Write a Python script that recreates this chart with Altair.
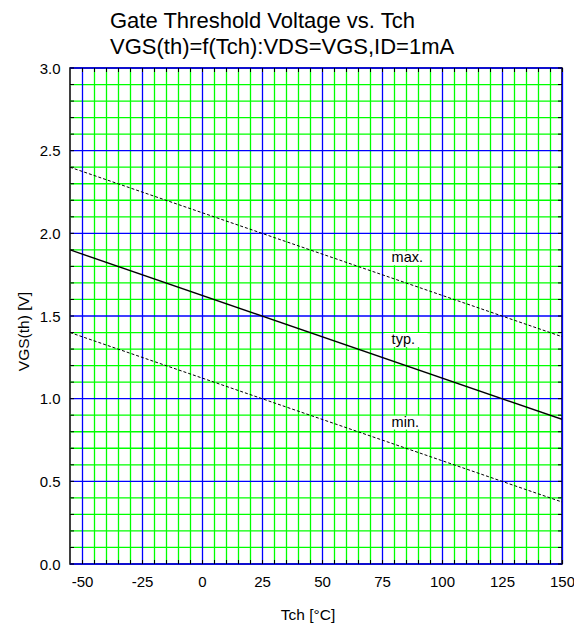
import altair as alt
import pandas as pd

# Data
tch = [-55, 150]
vgs_max = [2.4, 1.375]
vgs_typ = [1.9, 0.875]
vgs_min = [1.4, 0.375]

label_text = ["max.", "typ.", "min."]
label_x = [79.0, 79.0, 79.0]
label_y = [1.849, 1.355, 0.855]
box_x1 = [76.0, 76.0, 76.0]
box_x2 = [94.0, 94.0, 94.0]
box_half = 0.042

x_major = [-50, -25, 0, 25, 50, 75, 100, 125, 150]
x_minor = [v for v in range(-50, 151, 5) if v % 25 != 0]
y_major = [0.0, 0.5, 1.0, 1.5, 2.0, 2.5, 3.0]
y_minor = [round(i / 10, 1) for i in range(0, 31) if i % 5 != 0]
x_ticks = list(range(-50, 151, 5))
y_ticks = [round(i / 10, 1) for i in range(0, 31)]

FONT = "Liberation Sans"
W, H = 492, 496

rows = []
for name, vals in [("max", vgs_max), ("typ", vgs_typ), ("min", vgs_min)]:
    for t, v in zip(tch, vals):
        rows.append({"series": name, "Tch": t, "VGS": v})
df = pd.DataFrame(rows)

lab = pd.DataFrame({
    "text": label_text, "x": label_x, "y": label_y,
    "x1": box_x1, "x2": box_x2,
    "y1": [v - box_half for v in label_y], "y2": [v + box_half for v in label_y],
})

xminor_df = pd.DataFrame({"x": x_minor})
xmajor_df = pd.DataFrame({"x": x_major})
yminor_df = pd.DataFrame({"y": y_minor})
ymajor_df = pd.DataFrame({"y": y_major})
xticks_df = pd.DataFrame({"x": x_ticks})
yticks_df = pd.DataFrame({"y": y_ticks})

xscale = alt.Scale(domain=[-55, 150], nice=False, zero=False)
yscale = alt.Scale(domain=[0, 3.0], nice=False, zero=False)

xaxis = alt.Axis(
    values=x_major, grid=False, ticks=False, domain=False,
    labelExpr="'' + datum.value",
    labelFont=FONT, labelFontSize=15, labelColor="black", labelPadding=10,
    labelFlush=False, labelOverlap=False,
    title="Tch [°C]", titleFont=FONT, titleFontSize=15.5, titleFontWeight="normal",
    titleColor="black", titleX=237.5, titleY=50,
    titleAlign="center", titleBaseline="middle",
)
yaxis = alt.Axis(
    values=y_major, grid=False, ticks=False, domain=False,
    format=".1f",
    labelFont=FONT, labelFontSize=15, labelColor="black", labelPadding=10,
    labelFlush=False, labelOverlap=False,
    title="VGS(th) [V]", titleFont=FONT, titleFontSize=15.5, titleFontWeight="normal",
    titleColor="black", titleX=-47, titleY=263, titleAngle=270,
    titleAlign="center", titleBaseline="middle",
)

def X(field):
    return alt.X(field, type="quantitative", scale=xscale, axis=xaxis)

def Y(field):
    return alt.Y(field, type="quantitative", scale=yscale, axis=yaxis)

GREEN = "#00ff00"
BLUE = "#0000ff"
GW = 1.3

g_xminor = alt.Chart(xminor_df).mark_rule(color=GREEN, strokeWidth=GW, xOffset=0.5).encode(x=X("x"))
g_yminor = alt.Chart(yminor_df).mark_rule(color=GREEN, strokeWidth=GW).encode(y=Y("y"))
g_xmajor = alt.Chart(xmajor_df).mark_rule(color=BLUE, strokeWidth=GW, xOffset=0.5).encode(x=X("x"))
g_ymajor = alt.Chart(ymajor_df).mark_rule(color=BLUE, strokeWidth=GW).encode(y=Y("y"))

# short inward ticks on the frame
t_top = alt.Chart(xticks_df).mark_rule(color="black", strokeWidth=1, xOffset=0.5).encode(
    x=X("x"), y=alt.value(0), y2=alt.value(4))
t_bot = alt.Chart(xticks_df).mark_rule(color="black", strokeWidth=1, xOffset=0.5).encode(
    x=X("x"), y=alt.value(H), y2=alt.value(H - 4))
t_left = alt.Chart(yticks_df).mark_rule(color="black", strokeWidth=1).encode(
    y=Y("y"), x=alt.value(0), x2=alt.value(4))
t_right = alt.Chart(yticks_df).mark_rule(color="black", strokeWidth=1).encode(
    y=Y("y"), x=alt.value(W), x2=alt.value(W - 4))

boxes = alt.Chart(lab).mark_rect(color="white").encode(
    x=X("x1"), x2="x2:Q", y=Y("y1"), y2="y2:Q",
)

base = alt.Chart(df)
typ_line = base.transform_filter("datum.series === 'typ'").mark_line(
    color="black", strokeWidth=1.4, clip=True
).encode(x=X("Tch"), y=Y("VGS"), detail="series:N")
dash_lines = base.transform_filter("datum.series !== 'typ'").mark_line(
    color="black", strokeWidth=1, strokeDash=[3, 2], clip=True
).encode(x=X("Tch"), y=Y("VGS"), detail="series:N")

texts = alt.Chart(lab).mark_text(
    align="left", baseline="middle", font=FONT, fontSize=14.5, color="black"
).encode(x=X("x"), y=Y("y"), text="text:N")

chart = alt.layer(
    g_xminor, g_yminor, g_xmajor, g_ymajor,
    boxes, typ_line, dash_lines, texts,
    t_top, t_bot, t_left, t_right,
).properties(
    width=W, height=H,
    title=alt.TitleParams(
        ["Gate Threshold Voltage vs. Tch", "VGS(th)=f(Tch):VDS=VGS,ID=1mA"],
        font=FONT, fontSize=22, fontWeight="normal", color="black",
        anchor="start", frame="group", dx=40, offset=2, lineHeight=26,
    ),
    autosize=alt.AutoSizeParams(type="none"),
    padding={"left": 62, "top": 60, "right": 12, "bottom": 62},
).configure_view(
    stroke="black", strokeWidth=1.5
)

chart.save("out.html", embed_options={"renderer": "svg", "actions": False})
